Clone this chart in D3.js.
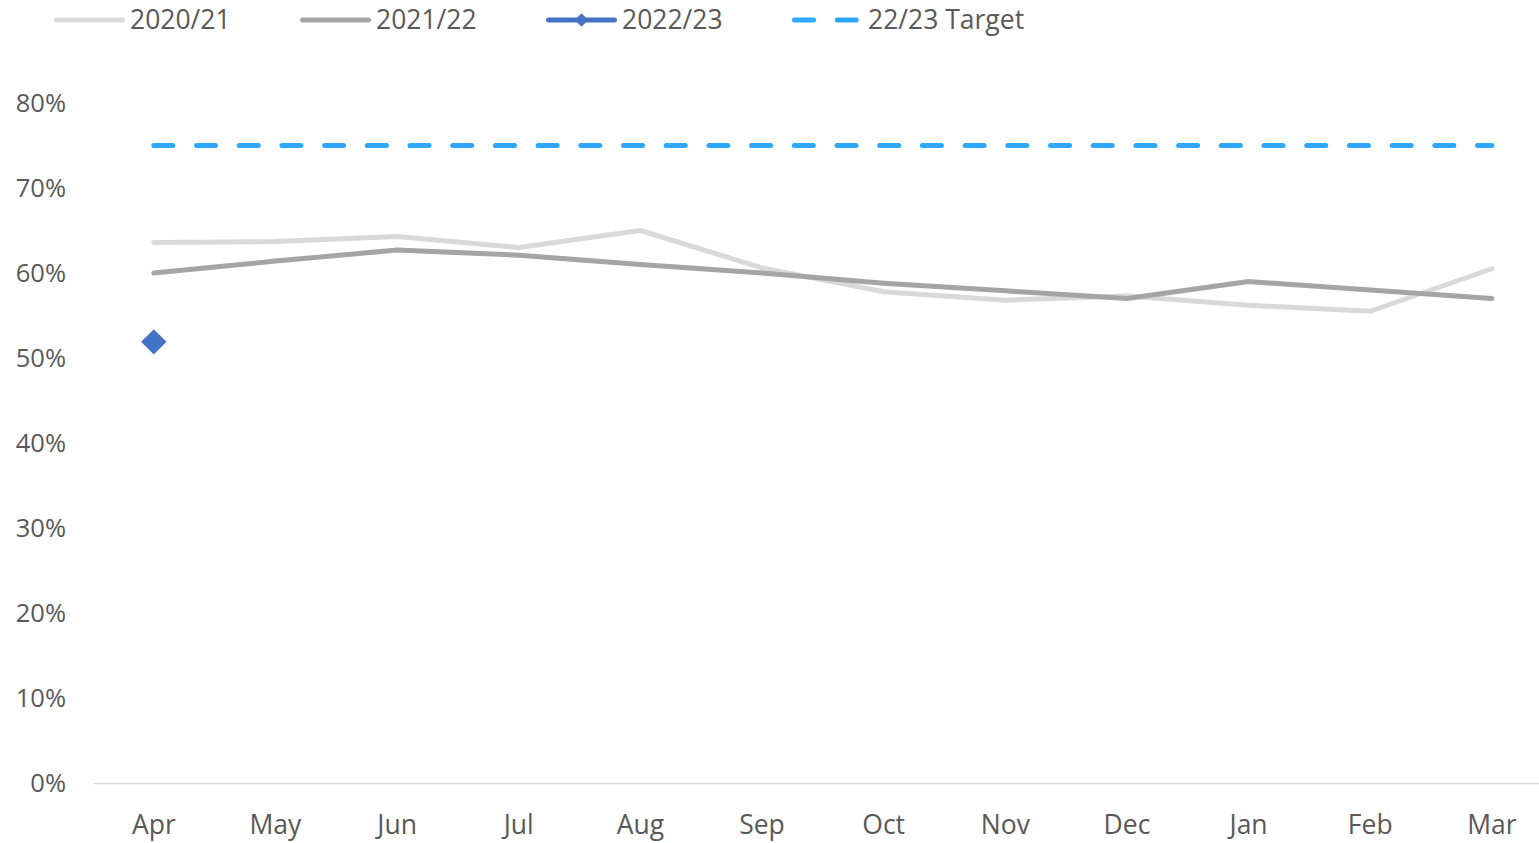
<!DOCTYPE html>
<html>
<head>
<meta charset="utf-8">
<script src="https://cdn.jsdelivr.net/npm/d3@7"></script>
<style>
  body { margin: 0; background: #fff; }
  svg { display: block; }
</style>
</head>
<body>
<svg id="chart"></svg>
<script>
const months = ["Apr", "May", "Jun", "Jul", "Aug", "Sep", "Oct", "Nov", "Dec", "Jan", "Feb", "Mar"];
const yTicks = [0, 0.1, 0.2, 0.3, 0.4, 0.5, 0.6, 0.7, 0.8];
const series2021 = [0.636, 0.637, 0.643, 0.630, 0.650, 0.606, 0.578, 0.568, 0.573, 0.562, 0.555, 0.605];
const series2122 = [0.600, 0.614, 0.627, 0.621, 0.610, 0.600, 0.588, 0.579, 0.570, 0.590, 0.580, 0.570];
const series2223 = [0.519];
const target = 0.75;

const width = 1539, height = 843;
const font = "'Open Sans', 'Noto Sans', sans-serif";

const svg = d3.select("#chart")
    .attr("width", width)
    .attr("height", height);

const x = d3.scaleBand()
    .domain(months)
    .range([93, 93 + 12 * 121.64]);
const cx = d => x(d) + x.bandwidth() / 2;

const y = d3.scaleLinear()
    .domain([0, 0.8])
    .range([783, 103]);

// y axis labels (no axis line)
const yAxis = svg.append("g")
    .attr("transform", "translate(66,0)")
    .call(d3.axisLeft(y).tickValues(yTicks).tickFormat(d3.format(".0%")).tickSize(0).tickPadding(0));
yAxis.select(".domain").remove();
yAxis.selectAll("text")
    .style("font-family", font)
    .style("font-size", "25.5px")
    .attr("fill", "#595959");

// x axis
const xAxis = svg.append("g")
    .attr("transform", "translate(0,783)")
    .call(d3.axisBottom(x).tickSize(0).tickPadding(32));
xAxis.select(".domain").attr("stroke", "#d9d9d9").attr("stroke-width", 1.5);
xAxis.selectAll("text")
    .style("font-family", font)
    .style("font-size", "26.5px")
    .attr("fill", "#595959");

const line = d3.line()
    .x((d, i) => cx(months[i]))
    .y(d => y(d));

// target
svg.append("line")
    .attr("x1", cx(months[0]))
    .attr("x2", cx(months[months.length - 1]))
    .attr("y1", y(target))
    .attr("y2", y(target))
    .attr("stroke", "#2ea7fe")
    .attr("stroke-width", 5)
    .attr("stroke-linecap", "round")
    .attr("stroke-dasharray", "19,23.7");

svg.append("path")
    .datum(series2021)
    .attr("d", line)
    .attr("fill", "none")
    .attr("stroke", "#d9d9d9")
    .attr("stroke-width", 5)
    .attr("stroke-linecap", "round")
    .attr("stroke-linejoin", "round");

svg.append("path")
    .datum(series2122)
    .attr("d", line)
    .attr("fill", "none")
    .attr("stroke", "#a5a5a5")
    .attr("stroke-width", 5)
    .attr("stroke-linecap", "round")
    .attr("stroke-linejoin", "round");

svg.selectAll(".pt2223")
    .data(series2223)
    .join("path")
    .attr("class", "pt2223")
    .attr("d", d3.symbol(d3.symbolSquare, 320))
    .attr("transform", (d, i) => `translate(${cx(months[i])},${y(d)}) rotate(45)`)
    .attr("fill", "#4472c4");

// legend
const legendItems = [
  { name: "2020/21", color: "#d9d9d9", x: 54 },
  { name: "2021/22", color: "#a5a5a5", x: 300 },
  { name: "2022/23", color: "#4472c4", x: 546, marker: true },
  { name: "22/23 Target", color: "#2ea7fe", x: 792, dash: true }
];
const legend = svg.append("g").attr("transform", "translate(0,20)");
legendItems.forEach(it => {
  const g = legend.append("g").attr("transform", `translate(${it.x},0)`);
  g.append("line")
      .attr("x1", 2.5).attr("x2", 68.5)
      .attr("stroke", it.color)
      .attr("stroke-width", 5)
      .attr("stroke-linecap", "round")
      .attr("stroke-dasharray", it.dash ? "19,23.7" : null);
  if (it.marker) {
    g.append("path")
        .attr("d", d3.symbol(d3.symbolSquare, 90))
        .attr("transform", "translate(35.5,0) rotate(45)")
        .attr("fill", it.color);
  }
  g.append("text")
      .attr("x", 76)
      .attr("dy", "0.35em")
      .text(it.name)
      .style("font-family", font)
      .style("font-size", "26.5px")
      .attr("fill", "#595959");
});
</script>
</body>
</html>
